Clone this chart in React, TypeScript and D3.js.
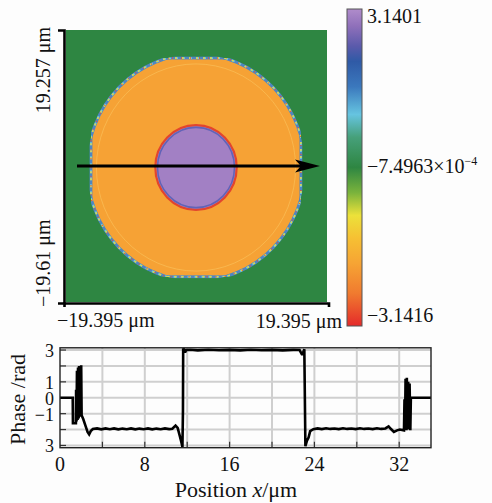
import React, { useEffect, useRef } from "react";
import * as d3 from "d3";

// ---- phase map extent (µm) ----
const imageXExtent = [-19.395, 19.395];
const imageYExtent = [-19.61, 19.257];
const xExtentLabels = ["−19.395 μm", "19.395 μm"];
const yExtentLabels = ["−19.61 μm", "19.257 μm"];

// feature geometry of the phase map (µm)
const ringCenter = [-0.075, -0.39];
const outerRadius = 16.2;
const innerRadius = 5.9;
const clipX = [-15.68, 15.52];
const clipY = [-16.0, 15.25];
const regionPhases = { background: -0.00074963, ring: -1.93, core: 3.0 };
const scanLine = { x0: -17.76, x1: 18.35, y: -0.18 };

// ---- colour bar ----
const colorbarDomain = [3.1401, -3.1416];
const colorStopValues = [3.1401, 2.8, 2.4, 2.1, 1.6, 1.05, 0.6, 0, -0.5, -0.95, -1.4, -1.9, -2.5, -3.1416];
const colorStopColors = ["#b08ccb", "#8f70ba", "#5a5aab", "#2f5aa6", "#3b78bd", "#66c4e0", "#46a07a", "#2e8642", "#7ab33c", "#ece13a", "#f6c033", "#f6a434", "#f07a2f", "#e42a2a"];

// ---- phase profile along the scan line ----
const positions = [
  0, 1.2, 1.22, 1.5, 1.52, 1.56, 1.6, 1.66, 1.7, 1.76, 1.8, 1.86, 1.9, 1.95, 2.0, 2.04, 2.2, 2.4, 2.6, 2.75, 2.9, 3.1,
  3.5, 3.9, 4.3, 4.7, 5.1, 5.5, 5.9, 6.3, 6.7, 7.1, 7.5, 7.9, 8.3, 8.7, 9.1, 9.5, 9.9, 10.3, 10.6, 10.9, 11.1, 11.3,
  11.45, 11.55, 11.6, 11.62, 11.7, 11.8, 11.9, 12.3, 13, 14, 15, 16, 17, 18, 19, 20, 21, 22, 22.6, 22.85, 23.0, 23.05,
  23.15, 23.3, 23.45, 23.6, 23.9, 24.3, 24.7, 25.1, 25.5, 25.9, 26.3, 26.7, 27.1, 27.5, 27.9, 28.3, 28.7, 29.1, 29.5,
  29.9, 30.3, 30.7, 31.0, 31.2, 31.5, 31.8, 32.05, 32.45, 32.5, 32.55, 32.6, 32.68, 32.72, 32.8, 32.85, 32.92, 32.98,
  33.05, 33.1, 35,
];
const phases = [
  0, 0, -1.6, -1.6, 0.5, -1.5, 1.7, -1.4, 1.9, -1.3, 2.0, -1.2, 2.0, -1.1, 2.05, -1.1, -1.35, -1.75, -2.15, -2.3, -2.1, -1.97,
  -1.93, -1.99, -1.93, -1.98, -1.93, -1.99, -1.94, -1.98, -1.93, -1.99, -1.94, -1.98, -1.93, -1.99, -1.94, -1.98, -1.93, -1.97,
  -1.95, -1.75, -1.9, -2.4, -2.8, -3.1, -0.8, 3.1, 3.05, 2.85, 3.0, 3.02, 2.98, 3.02, 2.99, 3.01, 2.98, 3.02, 2.99, 3.01, 2.98,
  3.01, 3.0, 2.7, 2.95, 3.05, -3.05, -2.7, -2.5, -2.1, -1.98, -1.93, -1.97, -1.92, -1.96, -1.93, -1.97, -1.92, -1.96, -1.93,
  -1.97, -1.92, -1.96, -1.93, -1.97, -1.92, -1.96, -1.93, -1.8, -1.95, -2.15, -2.05, -2.0, -2.05, -0.1, -2.0, 1.2, -2.05, 1.25,
  -2.0, 1.0, -2.0, 0.9, -2.05, 0, 0,
];
const xTickValues = [0, 8, 16, 24, 32];
const xGridValues = [4, 8, 12, 16, 20, 24, 28, 32];
const yGridValues = [-3, -2, -1, 0, 1, 2, 3];
const yTickLabels = [
  { v: 3, t: "3" },
  { v: 1, t: "1" },
  { v: 0, t: "0" },
  { v: -1, t: "−1" },
  { v: -3, t: "3" },
];

const FONT = "'Liberation Serif', 'Times New Roman', serif";

export default function App() {
  const ref = useRef<SVGSVGElement | null>(null);

  useEffect(() => {
    const svg = d3.select(ref.current);
    svg.selectAll("*").remove();

    const defs = svg.append("defs");
    const colorScale = d3.scaleLinear<string>().domain(colorStopValues).range(colorStopColors).clamp(true);

    // ---------- phase map ----------
    const xs = d3.scaleLinear().domain(imageXExtent).range([66, 327]);
    const ys = d3.scaleLinear().domain(imageYExtent).range([302, 30]);
    const pxPerX = xs(1) - xs(0);
    const pxPerY = ys(0) - ys(1);
    const cx = xs(ringCenter[0]);
    const cy = ys(ringCenter[1]);

    defs.append("filter").attr("id", "soft").append("feGaussianBlur").attr("stdDeviation", 0.55);
    defs.append("clipPath").attr("id", "clipRect").append("rect")
      .attr("x", xs(clipX[0])).attr("y", ys(clipY[1]))
      .attr("width", xs(clipX[1]) - xs(clipX[0])).attr("height", ys(clipY[0]) - ys(clipY[1]));
    defs.append("clipPath").attr("id", "clipEll").append("ellipse")
      .attr("cx", cx).attr("cy", cy).attr("rx", outerRadius * pxPerX).attr("ry", outerRadius * pxPerY);

    const img = svg.append("g").attr("filter", "url(#soft)");
    img.append("rect").attr("x", 66).attr("y", 30).attr("width", 261).attr("height", 272)
      .attr("fill", colorScale(regionPhases.background));

    const ring = img.append("g");
    const outerEll = (sel: any) => sel.append("ellipse").attr("cx", cx).attr("cy", cy)
      .attr("rx", outerRadius * pxPerX).attr("ry", outerRadius * pxPerY);
    const clipRectShape = (sel: any) => sel.append("rect")
      .attr("x", xs(clipX[0])).attr("y", ys(clipY[1]))
      .attr("width", xs(clipX[1]) - xs(clipX[0])).attr("height", ys(clipY[0]) - ys(clipY[1]));

    outerEll(ring.append("g").attr("clip-path", "url(#clipRect)")).attr("fill", colorScale(regionPhases.ring));

    // mottled rim of the ring
    const rimStyles = [
      { c: "#4f86c2", w: 2.8, d: null },
      { c: "#6cc9de", w: 1.8, d: "3 4" },
      { c: "#e6d83e", w: 1.4, d: "2 5" },
      { c: "#e0553a", w: 1.4, d: "1 8" },
    ];
    rimStyles.forEach((s) => {
      const a = outerEll(ring.append("g").attr("clip-path", "url(#clipRect)"))
        .attr("fill", "none").attr("stroke", s.c).attr("stroke-width", s.w);
      if (s.d) a.attr("stroke-dasharray", s.d);
      const b = clipRectShape(ring.append("g").attr("clip-path", "url(#clipEll)"))
        .attr("fill", "none").attr("stroke", s.c).attr("stroke-width", s.w);
      if (s.d) b.attr("stroke-dasharray", s.d);
    });
    // faint inner ripple of the ring
    ring.append("g").attr("clip-path", "url(#clipRect)").append("ellipse")
      .attr("cx", cx).attr("cy", cy)
      .attr("rx", (outerRadius - 1.4) * pxPerX).attr("ry", (outerRadius - 1.4) * pxPerY)
      .attr("fill", "none").attr("stroke", "#f9bf5a").attr("stroke-width", 1).attr("opacity", 0.7);

    // central core
    img.append("ellipse").attr("cx", cx).attr("cy", cy)
      .attr("rx", innerRadius * pxPerX + 1).attr("ry", innerRadius * pxPerY + 1)
      .attr("fill", colorScale(regionPhases.core)).attr("stroke", "#e2452f").attr("stroke-width", 2.2);
    img.append("ellipse").attr("cx", cx).attr("cy", cy)
      .attr("rx", innerRadius * pxPerX - 1.2).attr("ry", innerRadius * pxPerY - 1.2)
      .attr("fill", "none").attr("stroke", "#6264b8").attr("stroke-width", 1.6);

    // scan arrow
    const ay = ys(scanLine.y);
    const ax0 = xs(scanLine.x0);
    const ax1 = xs(scanLine.x1);
    svg.append("line").attr("x1", ax0).attr("x2", ax1 - 16).attr("y1", ay).attr("y2", ay)
      .attr("stroke", "#000").attr("stroke-width", 3);
    svg.append("path")
      .attr("d", `M${ax1},${ay} L${ax1 - 25},${ay - 6.5} L${ax1 - 19},${ay} L${ax1 - 25},${ay + 6.5} Z`)
      .attr("fill", "#000");

    // image axes
    const leftAxis = d3.axisLeft(d3.scaleLinear().domain([0, 1]).range([303, 30])).tickValues([]).tickSizeOuter(6);
    const gL = svg.append("g").attr("transform", "translate(64,0)").call(leftAxis);
    gL.select(".domain").attr("stroke", "#000").attr("stroke-width", 2.6);
    const bottomAxis = d3.axisBottom(d3.scaleLinear().domain([0, 1]).range([64, 328.5])).tickValues([]).tickSizeOuter(4);
    const gB = svg.append("g").attr("transform", "translate(0,303)").call(bottomAxis);
    gB.select(".domain").attr("stroke", "#000").attr("stroke-width", 2.6);

    const txt = (x: number, y: number, s: string, size = 20, anchor = "start") =>
      svg.append("text").attr("x", x).attr("y", y).attr("font-family", FONT).attr("font-size", size)
        .attr("text-anchor", anchor).attr("fill", "#111").text(s);

    txt(57, 327, xExtentLabels[0]);
    txt(342, 328, xExtentLabels[1], 20, "end");
    txt(0, 0, yExtentLabels[1], 20, "end").attr("transform", "translate(50,27) rotate(-90)");
    txt(0, 0, yExtentLabels[0], 20, "start").attr("transform", "translate(50,307) rotate(-90)");

    // ---------- colour bar ----------
    const cb = d3.scaleLinear().domain(colorbarDomain).range([9, 326]);
    const grad = defs.append("linearGradient").attr("id", "cbGrad")
      .attr("x1", 0).attr("x2", 0).attr("y1", 0).attr("y2", 1);
    colorStopValues.forEach((v, i) => {
      grad.append("stop")
        .attr("offset", (cb(v) - cb(colorbarDomain[0])) / (cb(colorbarDomain[1]) - cb(colorbarDomain[0])))
        .attr("stop-color", colorStopColors[i]);
    });
    svg.append("rect").attr("x", 347).attr("y", cb(colorbarDomain[0])).attr("width", 15)
      .attr("height", cb(colorbarDomain[1]) - cb(colorbarDomain[0]))
      .attr("fill", "url(#cbGrad)").attr("stroke", "#555").attr("stroke-width", 1);
    txt(367, 23, "3.1401");
    const mid = txt(367, 173, "−7.4963×10");
    mid.append("tspan").attr("font-size", 12).attr("dy", -8).text("−4");
    txt(367, 322, "−3.1416");

    // ---------- phase profile ----------
    const px = d3.scaleLinear().domain([0, 35]).range([60, 431]);
    const py = d3.scaleLinear().domain([-Math.PI, Math.PI]).range([447.7, 347.8]);
    const plot = svg.append("g");
    xGridValues.forEach((v) => {
      plot.append("line").attr("x1", px(v)).attr("x2", px(v)).attr("y1", py(-Math.PI)).attr("y2", py(Math.PI))
        .attr("stroke", "#cfcfcf").attr("stroke-width", 2);
    });
    yGridValues.forEach((v) => {
      plot.append("line").attr("x1", px(0)).attr("x2", px(35)).attr("y1", py(v)).attr("y2", py(v))
        .attr("stroke", "#cfcfcf").attr("stroke-width", 2);
    });
    // inward ticks
    xGridValues.forEach((v) => {
      plot.append("line").attr("x1", px(v)).attr("x2", px(v)).attr("y1", py(-Math.PI)).attr("y2", py(-Math.PI) - 6)
        .attr("stroke", "#333").attr("stroke-width", 1.2);
    });
    yGridValues.forEach((v) => {
      plot.append("line").attr("x1", px(0)).attr("x2", px(0) + 6).attr("y1", py(v)).attr("y2", py(v))
        .attr("stroke", "#333").attr("stroke-width", 1.2);
    });

    const line = d3.line<number>().x((_, i) => px(positions[i])).y((d) => py(d));
    plot.append("path").attr("d", line(phases)).attr("fill", "none").attr("stroke", "#000")
      .attr("stroke-width", 2.6).attr("stroke-linejoin", "miter").attr("stroke-miterlimit", 2);

    plot.append("rect").attr("x", px(0)).attr("y", py(Math.PI)).attr("width", px(35) - px(0))
      .attr("height", py(-Math.PI) - py(Math.PI)).attr("fill", "none").attr("stroke", "#222").attr("stroke-width", 1.4);

    xTickValues.forEach((v) => txt(px(v), 471, String(v), 20, "middle"));
    yTickLabels.forEach((d) => txt(54, py(d.v) + 7, d.t, 18, "end"));

    const xt = txt(236, 497, "", 22, "middle");
    xt.append("tspan").text("Position ");
    xt.append("tspan").attr("font-style", "italic").text("x");
    xt.append("tspan").text("/μm");
    txt(0, 0, "Phase /rad", 22, "middle").attr("transform", "translate(25,399.5) rotate(-90)");
  }, []);

  return (
    <svg
      ref={ref}
      width={492}
      height={503}
      style={{ position: "absolute", left: 0, top: 0, background: "#fdfdfd" }}
    />
  );
}
